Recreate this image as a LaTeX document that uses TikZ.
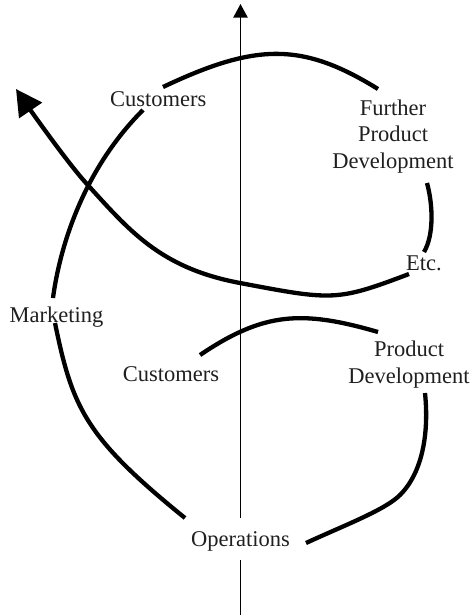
\documentclass[tikz,border=0pt]{standalone}
\usepackage{fontspec}
\setmainfont{Liberation Serif}
\usetikzlibrary{arrows.meta}
\begin{document}
\begin{tikzpicture}[x=1pt,y=-1pt,
  lbl/.style={font=\fontsize{22.5}{26.7}\selectfont, inner sep=0pt, text=black!88},
  spiral/.style={line width=4.3pt, black},
  axisline/.style={line width=1.4pt, black}]
\useasboundingbox (0,0) rectangle (473,615);
% labels
\node[lbl, anchor=base] (cust1) at (158.3,106.7) {Customers};
\node[lbl, align=center] (fpd) at (393,136.5) {Further\\Product\\Development};
\node[lbl, anchor=base] (etc) at (424,270) {Etc.};
\node[lbl, anchor=base] (mkt) at (56.5,322) {Marketing};
\node[lbl, anchor=base] (cust2) at (171,381.7) {Customers};
\node[lbl, align=center] (pd) at (409,364.75) {Product\\Development};
\node[lbl, text height=17.6pt, text depth=2.4pt, inner ysep=11pt] (ops) at (240.5,539) {Operations};
% axis
\coordinate (axbot) at (240.5,615);
\coordinate (axtop) at (240.5,4);
\draw[axisline] (axbot) -- (ops.south);
\draw[axisline, -{Triangle[length=13.7pt,width=14.4pt]}] (ops.north) -- (axtop);
% spiral end points
\coordinate (c2out) at (200,355);
\coordinate (pdin) at (378,332);
\coordinate (pdout) at (425,393);
\coordinate (opsin) at (306,543);
\coordinate (opsout) at (185,518);
\coordinate (mktin) at (55,323);
\coordinate (mktout) at (53,298);
\coordinate (c1in) at (143,110);
\coordinate (c1out) at (163,87);
\coordinate (fpdin) at (378,89);
\coordinate (fpdout) at (427,183);
\coordinate (etcin) at (424,252);
\coordinate (etcout) at (409,274);
\coordinate (tip) at (16,89);
% spiral
\draw[spiral] (c2out) .. controls (264,311.8) and (302,310) .. (pdin);
\draw[spiral] (pdout) .. controls (429,432) and (423,472) .. (400,495)
  .. controls (385,510) and (345,525) .. (opsin);
\draw[spiral] (opsout) .. controls (85,437) and (72.5,408) .. (mktin);
\draw[spiral] (mktout) .. controls (58,260) and (77,176) .. (c1in);
\draw[spiral] (c1out) .. controls (256,43) and (302,42) .. (fpdin);
\draw[spiral] (fpdout) .. controls (433,205) and (434,235) .. (etcin);
\draw[spiral, -{Triangle[length=26pt,width=27pt]}] (etcout)
  .. controls (336.5,301.5) and (332.5,300.5) .. (240,283)
  .. controls (160,268) and (129.2,230.5) .. (86,183)
  .. controls (66.8,161.9) and (28,106.6) .. (tip);
\end{tikzpicture}
\end{document}
